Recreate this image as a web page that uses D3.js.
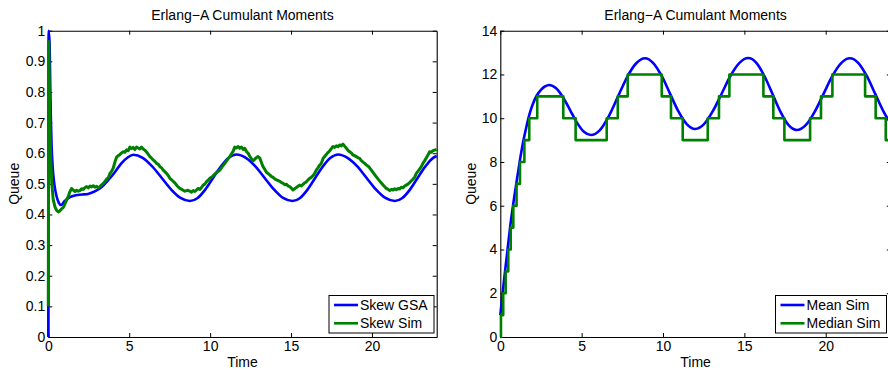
<!DOCTYPE html>
<html>
<head>
<meta charset="utf-8">
<script src="https://cdn.jsdelivr.net/npm/d3@7"></script>
<style>
  html, body { margin: 0; padding: 0; background: #fff; }
  svg { display: block; }
  text { font-family: "Liberation Sans", Arial, Helvetica, sans-serif; fill: #000; }
</style>
</head>
<body>
<svg id="chart" width="888" height="370"></svg>
<script>
// ---------------- DATA ----------------
const titleText = "Erlang\u2212A Cumulant Moments";
const xLabel = "Time";
const yLabel = "Queue";
const xDomain = [0, 24];
const xTicks = [0, 5, 10, 15, 20];
const leftYTicks = [0, 0.1, 0.2, 0.3, 0.4, 0.5, 0.6, 0.7, 0.8, 0.9, 1];
const leftYTickLabels = ["0", "0.1", "0.2", "0.3", "0.4", "0.5", "0.6", "0.7", "0.8", "0.9", "1"];
const rightYTicks = [0, 2, 4, 6, 8, 10, 12, 14];
const leftSeriesNames = ["Skew GSA", "Skew Sim"];
const rightSeriesNames = ["Mean Sim", "Median Sim"];

// Skew GSA (smooth) [time, value]
const skewGSA = [
  [0,0],[0.02,1.0],[0.08,0.96],[0.12,0.82],[0.16,0.71],[0.2,0.63],[0.27,0.555],[0.37,0.5],
  [0.5,0.462],[0.65,0.438],[0.78,0.431],[1.0,0.443],[1.3,0.456],[1.7,0.463],[2.1,0.465],
  [2.5,0.468],[2.9,0.476],[3.3,0.49],[3.7,0.512],[4.1,0.537],[4.5,0.566],[4.9,0.586],[5.25,0.595],
  [5.83,0.585],[6.42,0.557],[7.0,0.52],[7.58,0.482],[8.17,0.454],[8.75,0.444],
  [9.23,0.454],[9.71,0.482],[10.19,0.52],[10.67,0.557],[11.15,0.585],[11.63,0.596],
  [12.21,0.585],[12.78,0.558],[13.36,0.52],[13.94,0.482],[14.51,0.454],[15.09,0.444],
  [15.56,0.454],[16.03,0.482],[16.5,0.52],[16.97,0.557],[17.44,0.585],[17.91,0.596],
  [18.49,0.585],[19.08,0.558],[19.66,0.52],[20.24,0.482],[20.83,0.454],[21.41,0.444],
  [21.88,0.454],[22.36,0.482],[22.83,0.52],[23.3,0.557],[23.78,0.585],[24.0,0.591]
];

// Skew Sim (noisy) [time, value]
const skewSim = [
  [0,0.1],[0.03,0.965],[0.07,0.8],[0.1,0.68],[0.15,0.58],[0.22,0.5],[0.3,0.45],[0.41,0.425],
  [0.52,0.413],[0.62,0.408],[0.72,0.412],[0.82,0.418],[0.93,0.423],[1.03,0.435],[1.13,0.447],
  [1.24,0.46],[1.34,0.475],[1.44,0.485],[1.55,0.479],[1.65,0.475],[1.75,0.479],[1.85,0.476],
  [1.95,0.478],[2.06,0.484],[2.16,0.482],[2.27,0.488],[2.37,0.491],[2.47,0.487],[2.58,0.493],
  [2.68,0.49],[2.78,0.494],[2.88,0.489],[2.99,0.492],[3.09,0.487],[3.19,0.491],[3.3,0.497],
  [3.4,0.502],[3.5,0.508],[3.6,0.515],[3.71,0.52],[3.81,0.534],[3.91,0.541],[4.01,0.551],
  [4.12,0.572],[4.22,0.587],[4.32,0.592],[4.43,0.596],[4.53,0.601],[4.63,0.605],[4.73,0.603],
  [4.84,0.611],[4.94,0.608],[5.04,0.62],[5.14,0.615],[5.24,0.619],[5.35,0.612],[5.45,0.62],
  [5.55,0.617],[5.65,0.614],[5.76,0.62],[5.86,0.614],[5.96,0.61],[6.07,0.604],[6.17,0.597],
  [6.28,0.589],[6.38,0.584],[6.48,0.578],[6.59,0.573],[6.69,0.567],[6.79,0.564],[6.9,0.556],
  [7.0,0.552],[7.1,0.545],[7.2,0.54],[7.31,0.534],[7.41,0.527],[7.51,0.518],[7.66,0.511],
  [7.82,0.503],[7.97,0.493],[8.13,0.485],[8.28,0.481],[8.44,0.476],[8.59,0.479],[8.75,0.476],
  [8.85,0.473],[8.96,0.478],[9.06,0.475],[9.16,0.48],[9.26,0.485],[9.37,0.482],[9.47,0.488],
  [9.57,0.496],[9.67,0.499],[9.78,0.507],[9.88,0.512],[9.98,0.518],[10.13,0.523],[10.29,0.532],
  [10.44,0.539],[10.6,0.545],[10.75,0.556],[10.91,0.567],[11.06,0.578],[11.21,0.589],[11.31,0.597],
  [11.42,0.606],[11.52,0.62],[11.62,0.617],[11.73,0.622],[11.83,0.616],[11.94,0.62],[12.04,0.612],
  [12.14,0.616],[12.25,0.605],[12.35,0.6],[12.45,0.59],[12.55,0.582],[12.65,0.575],[12.75,0.58],
  [12.86,0.586],[12.96,0.589],[13.07,0.584],[13.17,0.57],[13.27,0.556],[13.37,0.548],[13.48,0.538],
  [13.58,0.534],[13.68,0.529],[13.79,0.524],[13.89,0.521],[14.0,0.516],[14.1,0.513],[14.2,0.511],
  [14.31,0.508],[14.41,0.504],[14.51,0.502],[14.61,0.497],[14.72,0.499],[14.82,0.493],[14.92,0.491],
  [15.02,0.486],[15.12,0.48],[15.22,0.484],[15.33,0.488],[15.43,0.492],[15.53,0.496],[15.64,0.493],
  [15.74,0.498],[15.84,0.503],[15.95,0.507],[16.05,0.513],[16.15,0.518],[16.25,0.521],[16.36,0.527],
  [16.46,0.534],[16.56,0.545],[16.66,0.552],[16.77,0.561],[16.87,0.567],[16.98,0.583],[17.08,0.59],
  [17.18,0.596],[17.28,0.602],[17.39,0.608],[17.49,0.615],[17.59,0.622],[17.69,0.619],[17.8,0.624],
  [17.9,0.621],[18.0,0.627],[18.11,0.624],[18.21,0.63],[18.31,0.623],[18.41,0.617],[18.52,0.609],
  [18.62,0.605],[18.72,0.601],[18.83,0.594],[18.93,0.592],[19.03,0.589],[19.14,0.585],[19.24,0.583],
  [19.34,0.576],[19.45,0.571],[19.55,0.567],[19.65,0.562],[19.8,0.556],[19.96,0.545],[20.11,0.534],
  [20.27,0.523],[20.42,0.513],[20.58,0.503],[20.73,0.494],[20.89,0.485],[21.0,0.482],[21.1,0.478],
  [21.2,0.482],[21.3,0.48],[21.4,0.484],[21.5,0.481],[21.61,0.485],[21.71,0.483],[21.81,0.489],
  [21.92,0.487],[22.02,0.493],[22.12,0.496],[22.22,0.499],[22.33,0.504],[22.43,0.51],[22.53,0.515],
  [22.63,0.521],[22.74,0.534],[22.84,0.541],[22.94,0.548],[23.05,0.556],[23.15,0.567],[23.25,0.575],
  [23.35,0.584],[23.46,0.594],[23.56,0.605],[23.66,0.603],[23.76,0.608],[23.86,0.61],[24.0,0.612]
];

// Mean Sim (smooth) [time, value]
const meanSim = [
  [0,1.0],[0.2,2.4],[0.4,3.7],[0.6,5.0],[0.8,6.1],[1.0,7.1],[1.2,8.05],[1.4,8.9],[1.6,9.6],
  [1.8,10.2],[2.0,10.65],[2.25,11.05],[2.5,11.3],[2.75,11.45],[3.0,11.52],
  [3.43,11.37],[3.86,10.95],[4.29,10.375],[4.71,9.8],[5.14,9.38],[5.57,9.23],
  [6.12,9.46],[6.68,10.11],[7.23,10.985],[7.78,11.86],[8.34,12.5],[8.89,12.74],
  [9.4,12.52],[9.92,11.93],[10.43,11.125],[10.94,10.32],[11.46,9.73],[11.97,9.51],
  [12.52,9.73],[13.06,10.32],[13.61,11.13],[14.15,11.94],[14.7,12.53],[15.24,12.75],
  [15.74,12.53],[16.23,11.93],[16.73,11.105],[17.23,10.28],[17.72,9.68],[18.22,9.46],
  [18.77,9.68],[19.31,10.28],[19.86,11.1],[20.4,11.92],[20.95,12.52],[21.49,12.74],
  [22.01,12.52],[22.53,11.92],[23.05,11.1],[23.57,10.28],[24.0,9.76]
];

// Median Sim (step function, value holds until next time) [time, value]
const medianSim = [
  [0,0],[0.04,1],[0.18,2],[0.33,3],[0.49,4],[0.64,5],[0.8,6],[1.0,7],[1.21,8],[1.48,9],
  [1.78,10],[2.27,11],[3.87,10],[4.63,9],[6.54,10],[7.22,11],[7.83,12],[9.92,11],[10.49,10],
  [11.21,9],[12.75,10],[13.44,11],[14.08,12],[16.17,11],[16.78,10],[17.46,9],[19.04,10],
  [19.71,11],[20.41,12],[22.42,11],[23.07,10],[23.69,9],[24,9]
];

// ---------------- DRAWING ----------------
const BLUE = "#0000ff", GREEN = "#008000";
const FS = 14;
const svg = d3.select("#chart");
const yTop = 30.7, yBot = 337;

function panel(cfg) {
  const x = d3.scaleLinear().domain(xDomain).range([cfg.x0, cfg.x1]);
  const y = d3.scaleLinear().domain(cfg.yDomain).range([yBot, yTop]);
  const g = svg.append("g");

  const tickLen = 4;
  const bottom = g.append("g").attr("transform", `translate(0,${yBot})`)
    .call(d3.axisBottom(x).tickValues(xTicks).tickSizeInner(-tickLen).tickSizeOuter(0).tickPadding(4.5).tickFormat(d3.format("d")));
  const top = g.append("g").attr("transform", `translate(0,${yTop})`)
    .call(d3.axisTop(x).tickValues(xTicks).tickSizeInner(-tickLen).tickSizeOuter(0).tickFormat(""));
  const left = g.append("g").attr("transform", `translate(${cfg.x0},0)`)
    .call(d3.axisLeft(y).tickValues(cfg.yTicks).tickSizeInner(-tickLen).tickSizeOuter(0).tickPadding(3)
      .tickFormat((d, i) => cfg.yLabels ? cfg.yLabels[i] : String(d)));
  const right = g.append("g").attr("transform", `translate(${cfg.x1},0)`)
    .call(d3.axisRight(y).tickValues(cfg.yTicks).tickSizeInner(-tickLen).tickSizeOuter(0).tickFormat(""));
  [bottom, top, left, right].forEach(a => {
    a.selectAll("path.domain").attr("stroke", "#000").attr("stroke-width", 1.1);
    a.selectAll(".tick line").attr("stroke", "#000").attr("stroke-width", 1);
    a.selectAll(".tick text").attr("font-size", FS).attr("fill", "#000")
      .style("font-family", '"Liberation Sans", Arial, Helvetica, sans-serif');
  });

  cfg.series.forEach(s => {
    const line = d3.line().x(d => x(d[0])).y(d => y(d[1])).curve(s.curve);
    g.append("path").datum(s.data).attr("d", line)
      .attr("fill", "none").attr("stroke", s.color).attr("stroke-width", s.width)
      .attr("stroke-linejoin", "round").attr("stroke-linecap", "butt");
  });

  const cx = (cfg.x0 + cfg.x1) / 2;
  g.append("text").attr("x", cx).attr("y", 20).attr("text-anchor", "middle")
    .attr("font-size", FS).text(titleText);
  g.append("text").attr("x", cx).attr("y", 367).attr("text-anchor", "middle")
    .attr("font-size", FS).text(xLabel);
  g.append("text").attr("transform", `translate(${cfg.ylabX},${(yTop + yBot) / 2}) rotate(-90)`)
    .attr("text-anchor", "middle").attr("font-size", FS).text(yLabel);

  const L = cfg.legend;
  g.append("rect").attr("x", L.x).attr("y", L.y).attr("width", L.w).attr("height", L.h)
    .attr("fill", "#fff").attr("stroke", "#000").attr("stroke-width", 1);
  cfg.series.forEach((s, i) => {
    const ry = L.y + 9.5 + i * 18.3;
    g.append("line").attr("x1", L.x + 5).attr("x2", L.x + 29).attr("y1", ry).attr("y2", ry)
      .attr("stroke", s.color).attr("stroke-width", 2.6);
    g.append("text").attr("x", L.x + 31).attr("y", ry).attr("dy", "0.35em")
      .attr("font-size", FS).text(cfg.names[i]);
  });
}

panel({
  x0: 48.3, x1: 436.7, yDomain: [0, 1], yTicks: leftYTicks, yLabels: leftYTickLabels, ylabX: 19,
  names: leftSeriesNames,
  series: [
    { data: skewGSA, color: BLUE, width: 2.6, curve: d3.curveMonotoneX },
    { data: skewSim, color: GREEN, width: 3, curve: d3.curveLinear }
  ],
  legend: { x: 329, y: 295.5, w: 105, h: 37.5 }
});

panel({
  x0: 500.3, x1: 890.8, yDomain: [0, 14], yTicks: rightYTicks, yLabels: null, ylabX: 476,
  names: rightSeriesNames,
  series: [
    { data: meanSim, color: BLUE, width: 2.6, curve: d3.curveMonotoneX },
    { data: medianSim, color: GREEN, width: 2.6, curve: d3.curveStepAfter }
  ],
  legend: { x: 775.5, y: 295.5, w: 111, h: 37.5 }
});
</script>
</body>
</html>
